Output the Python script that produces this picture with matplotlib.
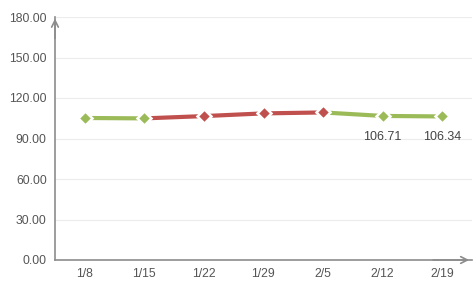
import matplotlib
matplotlib.use("Agg")
import matplotlib.pyplot as plt

plt.rcParams["font.family"] = ["Liberation Sans", "DejaVu Sans"]

categories = ["1/8", "1/15", "1/22", "1/29", "2/5", "2/12", "2/19"]
values = [105.2, 104.9, 106.6, 108.6, 109.3, 106.71, 106.34]
labeled = [5, 6]
y_ticks = [0, 30, 60, 90, 120, 150, 180]

GREEN = "#9bbb59"
RED = "#c0504d"
TEXT = "#555555"

fig = plt.figure(figsize=(4.75, 2.88), dpi=100)
ax = fig.add_axes([55/475, 28/288, 417/475, 243/288])
x = list(range(len(categories)))

colors = [GREEN]
for i in range(1, len(values)):
    colors.append(RED if values[i] > values[i-1] else GREEN)

for i in range(1, len(values)):
    ax.plot([x[i-1], x[i]], [values[i-1], values[i]], color=colors[i], lw=3,
            solid_capstyle="butt", zorder=2)
for i in range(len(values)):
    ax.plot(x[i], values[i], marker="D", ms=7.5, color=colors[i], mec="white",
            mew=1.8, zorder=3, linestyle="none")
for i in labeled:
    ax.text(x[i], values[i] - 11, f"{values[i]:.2f}", ha="center", va="top",
            fontsize=9, color="#444444")

ax.set_xlim(-0.5, 6.5)
ax.set_ylim(0, 180)
ax.set_xticks(x)
ax.set_xticklabels(categories)
ax.set_yticks(y_ticks)
ax.set_yticklabels([f"{v:.2f}" for v in y_ticks])
ax.tick_params(length=0, labelsize=8.8, colors=TEXT, pad=6)
ax.tick_params(axis="y", pad=6)
for v in y_ticks[1:]:
    ax.axhline(v, color="#ececec", lw=0.8, zorder=0)
for s in ["top", "right"]:
    ax.spines[s].set_visible(False)
for s in ["left", "bottom"]:
    ax.spines[s].set_color("#8c8c8c")
    ax.spines[s].set_linewidth(1.2)

ax.annotate("", xy=(0, 1.005), xytext=(0, 0.9), xycoords="axes fraction",
            arrowprops=dict(arrowstyle="->", color="#8c8c8c", lw=1.2,
                            mutation_scale=12))
ax.annotate("", xy=(1.0, 0), xytext=(0.9, 0), xycoords="axes fraction",
            arrowprops=dict(arrowstyle="->", color="#8c8c8c", lw=1.2,
                            mutation_scale=12))

fig.savefig("out.png", dpi=100)
